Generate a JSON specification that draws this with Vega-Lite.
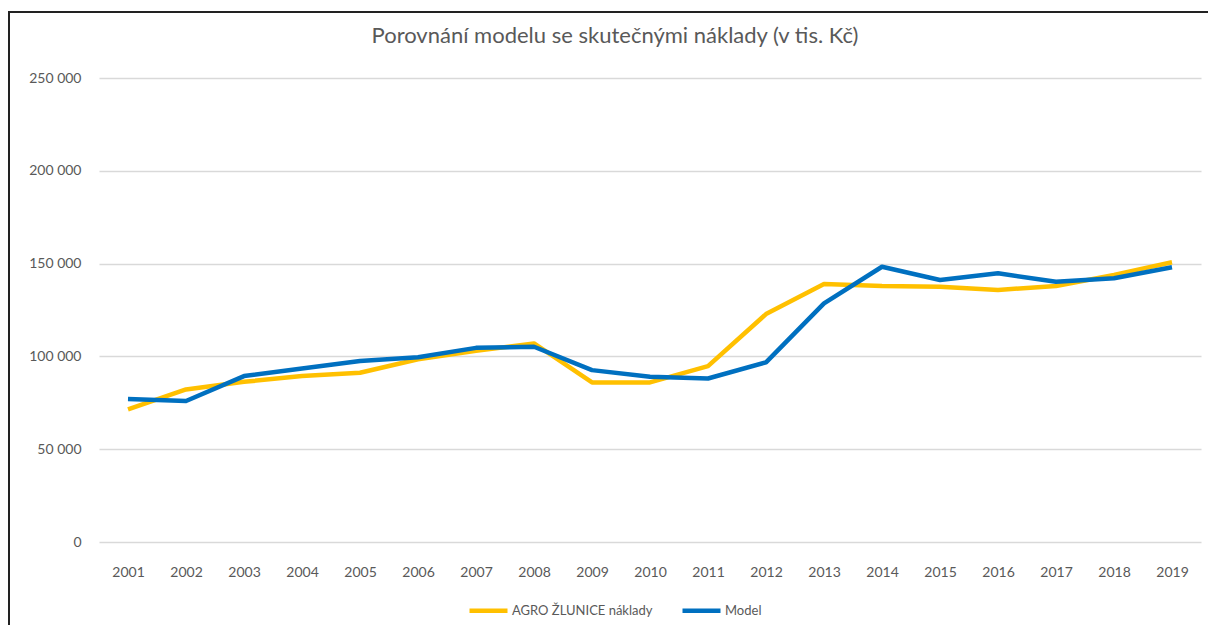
{
  "$schema": "https://vega.github.io/schema/vega-lite/v6.json",
  "autosize": {"type": "none"},
  "width": 1212,
  "height": 626,
  "padding": {"left": 9, "top": 12, "right": -13, "bottom": -13},
  "background": "white",
  "title": {
    "text": "Porovnání modelu se skutečnými náklady (v tis. Kč)",
    "font": "Lato",
    "fontSize": 22,
    "fontWeight": "normal",
    "color": "#595959",
    "anchor": "middle",
    "baseline": "alphabetic",
    "offset": -53
  },
  "config": {
    "view": {"stroke": "#222222", "strokeWidth": 2},
    "locale": {"number": {"decimal": ",", "thousands": " ", "grouping": [3], "currency": ["", " Kč"]}},
    "font": "Lato"
  },
  "data": {
    "values": [
      {"year": 2001, "series": "AGRO ŽLUNICE náklady", "value": 71400},
      {"year": 2002, "series": "AGRO ŽLUNICE náklady", "value": 82200},
      {"year": 2003, "series": "AGRO ŽLUNICE náklady", "value": 86300},
      {"year": 2004, "series": "AGRO ŽLUNICE náklady", "value": 89400},
      {"year": 2005, "series": "AGRO ŽLUNICE náklady", "value": 91200},
      {"year": 2006, "series": "AGRO ŽLUNICE náklady", "value": 98500},
      {"year": 2007, "series": "AGRO ŽLUNICE náklady", "value": 103000},
      {"year": 2008, "series": "AGRO ŽLUNICE náklady", "value": 107000},
      {"year": 2009, "series": "AGRO ŽLUNICE náklady", "value": 86000},
      {"year": 2010, "series": "AGRO ŽLUNICE náklady", "value": 86000},
      {"year": 2011, "series": "AGRO ŽLUNICE náklady", "value": 94800},
      {"year": 2012, "series": "AGRO ŽLUNICE náklady", "value": 122800},
      {"year": 2013, "series": "AGRO ŽLUNICE náklady", "value": 139000},
      {"year": 2014, "series": "AGRO ŽLUNICE náklady", "value": 137900},
      {"year": 2015, "series": "AGRO ŽLUNICE náklady", "value": 137500},
      {"year": 2016, "series": "AGRO ŽLUNICE náklady", "value": 135800},
      {"year": 2017, "series": "AGRO ŽLUNICE náklady", "value": 137900},
      {"year": 2018, "series": "AGRO ŽLUNICE náklady", "value": 143900},
      {"year": 2019, "series": "AGRO ŽLUNICE náklady", "value": 150700},
      {"year": 2001, "series": "Model", "value": 77000},
      {"year": 2002, "series": "Model", "value": 76000},
      {"year": 2003, "series": "Model", "value": 89400},
      {"year": 2004, "series": "Model", "value": 93500},
      {"year": 2005, "series": "Model", "value": 97500},
      {"year": 2006, "series": "Model", "value": 99500},
      {"year": 2007, "series": "Model", "value": 104600},
      {"year": 2008, "series": "Model", "value": 105200},
      {"year": 2009, "series": "Model", "value": 92600},
      {"year": 2010, "series": "Model", "value": 89000},
      {"year": 2011, "series": "Model", "value": 88100},
      {"year": 2012, "series": "Model", "value": 96800},
      {"year": 2013, "series": "Model", "value": 128600},
      {"year": 2014, "series": "Model", "value": 148300},
      {"year": 2015, "series": "Model", "value": 141200},
      {"year": 2016, "series": "Model", "value": 144800},
      {"year": 2017, "series": "Model", "value": 140200},
      {"year": 2018, "series": "Model", "value": 142100},
      {"year": 2019, "series": "Model", "value": 148000}
    ]
  },
  "mark": {"type": "line", "strokeWidth": 4.5, "strokeJoin": "round", "strokeCap": "butt"},
  "encoding": {
    "x": {
      "field": "year",
      "type": "quantitative",
      "scale": {"domain": [2000.5, 2019.5], "range": [90, 1192], "nice": false, "zero": false},
      "axis": {
        "title": null,
        "values": [2001, 2002, 2003, 2004, 2005, 2006, 2007, 2008, 2009, 2010, 2011, 2012, 2013, 2014, 2015, 2016, 2017, 2018, 2019],
        "format": "d",
        "grid": false,
        "ticks": false,
        "domain": false,
        "labelFont": "Lato",
        "labelFontSize": 14,
        "labelColor": "#595959",
        "labelPadding": 2,
        "offset": -75
      }
    },
    "y": {
      "field": "value",
      "type": "quantitative",
      "scale": {"domain": [0, 250000], "range": [530, 66], "nice": false},
      "axis": {
        "title": null,
        "values": [0, 50000, 100000, 150000, 200000, 250000],
        "format": ",d",
        "grid": true,
        "gridColor": "#d9d9d9",
        "gridWidth": 1.3,
        "ticks": false,
        "domain": false,
        "labelFont": "Lato",
        "labelFontSize": 14,
        "labelColor": "#595959",
        "labelPadding": 2,
        "offset": -74
      }
    },
    "color": {
      "field": "series",
      "type": "nominal",
      "scale": {"domain": ["AGRO ŽLUNICE náklady", "Model"], "range": ["#FFC000", "#0070C0"]},
      "legend": {
        "title": null,
        "orient": "none",
        "direction": "horizontal",
        "legendX": 458,
        "legendY": 577,
        "symbolType": "stroke",
        "symbolSize": 1444,
        "symbolStrokeWidth": 4.5,
        "labelFont": "Lato",
        "labelFontSize": 13,
        "labelColor": "#595959",
        "labelOffset": 2,
        "columnPadding": 20
      }
    }
  }
}
